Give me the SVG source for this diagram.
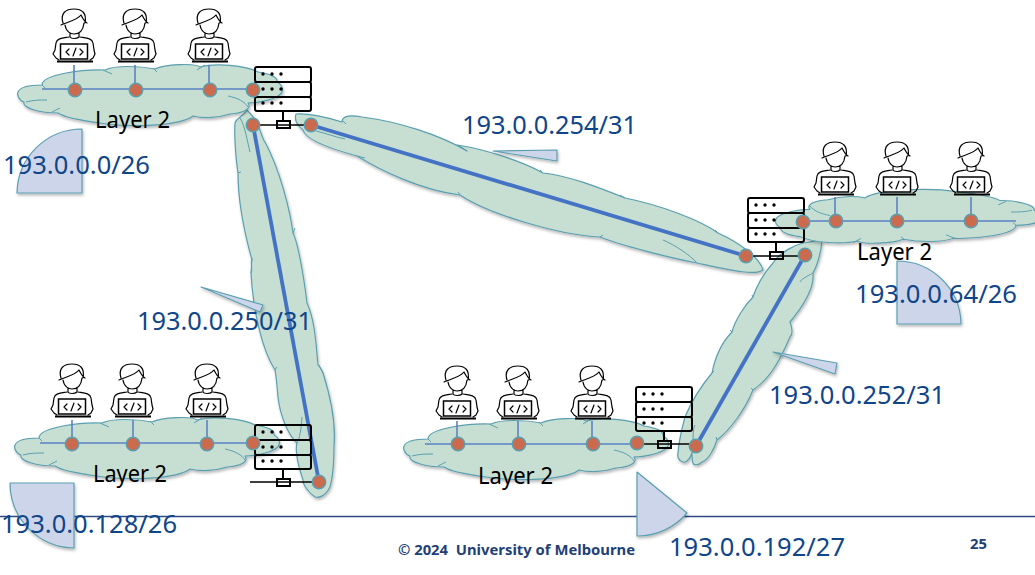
<svg xmlns="http://www.w3.org/2000/svg" xmlns:xlink="http://www.w3.org/1999/xlink" width="1035" height="575" viewBox="0 0 1035 575">
<style>
.cloud{fill:#c6dfd2;stroke:#5a9fb0;stroke-width:1.2;stroke-linejoin:round}
.crease{fill:none;stroke:#5a9fb0;stroke-width:1}
.pie{fill:#cdd5ea;stroke:#5a9fb0;stroke-width:1.2;stroke-linejoin:round}
.lan{stroke:#5b83c4;stroke-width:1.6;fill:none}
.wan{stroke:#4472c4;stroke-width:3.8;fill:none}
.dot{fill:#cb6a4d;stroke:#5a9fb0;stroke-width:1.5}
.k{fill:none;stroke:#000;stroke-width:1.2;stroke-linejoin:round;stroke-linecap:round}
.srv{fill:none;stroke:#000;stroke-width:2}
.sd{fill:#000}
.blue{font-family:"Noto Sans","Open Sans",sans-serif;font-size:25px;fill:#0f4589}
.l2{font-family:"Noto Sans","Open Sans",sans-serif;font-size:23px;fill:#000}
.foot{font-family:"Noto Sans","Open Sans",sans-serif;font-size:14.5px;font-weight:700;fill:#1f3f77}
</style>
<defs>
<filter id="sh" x="-10%" y="-10%" width="120%" height="120%"><feDropShadow dx="1" dy="2" stdDeviation="1.4" flood-color="#000" flood-opacity=".28"/></filter>
<g id="cloudShape">
<path class="cloud" d="M42,85 C42,74 85,69 105,70 C115,65 140,66 155,69 C165,64 195,63 200,67 C215,63 245,65 258,72 C270,74 278,77 277,82 C283,85 285,92 278,96 C270,101 255,103 248,103 C252,108 245,113 230,114 C215,119 200,118 193,116 C180,126 130,128 100,123 C85,121 65,118 58,113 C40,113 22,108 24,102 C18,100 17,94 18,92 C20,87 30,85 42,85 Z"/>
<path class="crease" d="M42,85 L45,88 M26,102 C33,100 40,100 47,100 M103,70 L112,74 M153,68 L157,72 M197,70 L205,65 M228,96 C238,98 245,102 248,107 M52,112 L60,108"/>
</g>
<g id="person">
<path class="k" d="M-11,23 C-14,13 -8,9 0,9 C8,9 13,13 11,23 M-13,25 C-6,22 3,20 7,15 C9,19 11,22 13,23 M-9,25 C-8,32 -3,34 0,34 C4,34 9,32 10,23 M-4,33 V37 C-3,39 3,39 5,37 V33"/>
<path class="k" d="M-5,37 C-11,38 -17,38 -18,43 L-19,50 L-21,54 L-18,58 L-15,60 M6,37 C12,38 18,38 19,43 L20,50 L21,54 L19,58 L16,60"/>
<rect x="-13.500" y="44" width="27" height="15" fill="#fff" stroke="#000" stroke-width="1.5"/>
<path d="M-17,61.500 H19" stroke="#000" stroke-width="2" fill="none"/>
<path class="k" d="M-5,49 L-8,52 L-5,55 M6,49 L9,52 L6,55 M2,48 L-1,56"/>
</g>
<g id="server">
<rect class="srv" x="0" y="0" width="56" height="15" rx="2"/>
<rect class="srv" x="0" y="15" width="56" height="15" rx="2"/>
<rect class="srv" x="0" y="30" width="56" height="14" rx="2"/>
<circle class="sd" cx="8" cy="7" r="1.7"/><circle class="sd" cx="17" cy="7" r="1.7"/><circle class="sd" cx="26" cy="7" r="1.7"/>
<circle class="sd" cx="8" cy="22" r="1.7"/><circle class="sd" cx="17" cy="22" r="1.7"/><circle class="sd" cx="26" cy="22" r="1.7"/>
<circle class="sd" cx="8" cy="36" r="1.7"/><circle class="sd" cx="17" cy="36" r="1.7"/><circle class="sd" cx="26" cy="36" r="1.7"/>
<path class="srv" d="M28,44 V54"/>
<rect class="srv" x="22" y="54" width="13" height="7" fill="none"/>
</g>
</defs>

<rect width="1035" height="575" fill="#fff"/>
<path d="M0,516.500 H1035" stroke="#2f4a80" stroke-width="1.4"/>

<g id="subnet-sectors" filter="url(#sh)">
<path class="pie" d="M17,193 H82 V129 A65,65 0 0 0 17,193 Z"/>
<path class="pie" d="M897,261 V324 H961 A64,64 0 0 0 897,261 Z"/>
<path class="pie" d="M10,483 H74 V548 A65,65 0 0 1 10,483 Z"/>
<path class="pie" d="M637,472 L687,513 A64,64 0 0 1 637,536 Z"/>
</g>

<g id="link-254" filter="url(#sh)">
<path class="cloud" d="M296,114 C308,113 330,118 342,122 C342,115 352,115 362,117 C400,122 440,135 467,151 C462,148 460,146 457,145 C490,150 525,163 543,173 C570,176 600,188 625,198 C660,205 700,220 718,233 C740,243 760,258 763,270 C755,276 730,270 697,263 C670,258 620,245 600,237 C560,235 490,215 460,195 C420,190 380,170 357,156 C335,150 305,140 303,130 C298,126 294,120 296,114 Z"/>
<path class="crease" d="M342,120 L346,124 M457,145 L467,151 M543,173 L540,170 M625,198 L620,195 M718,233 L715,230 M697,263 C690,255 675,245 663,240 M600,237 L603,235 M460,195 L458,192 M357,156 L365,158 M316,131 C325,133 335,137 345,139"/>
</g>

<g id="link-250" filter="url(#sh)">
<path class="cloud" d="M247,110 C250,114 256,118 258,125 C262,135 263,140 265,142 C280,170 290,210 293,233 C297,240 303,270 307,303 C315,320 316,345 318,365 C322,370 323,373 323,373 C330,395 336,420 334,445 C334,465 332,480 330,487 C325,497 318,498 315,497 C308,492 303,485 303,480 C298,465 295,450 297,443 C288,435 280,415 278,397 C277,385 276,375 275,370 C262,350 253,310 251,273 C253,268 250,262 252,260 C245,235 238,200 238,173 C236,160 234,135 235,123 C237,117 243,117 247,110 Z"/>
<path class="crease" d="M240,118 C245,125 248,145 250,152 M297,443 C300,437 301,430 302,417 M238,173 L241,172 M251,273 L252,258 M275,370 L277,367 M323,373 L319,365 M293,233 L295,228"/>
</g>

<g id="link-252" filter="url(#sh)">
<path class="cloud" d="M822,240 C821,255 816,268 813,273 C815,290 800,310 790,322 C793,330 792,335 790,337 C778,365 768,380 753,390 C745,410 730,430 717,440 C714,450 708,460 702,462 C698,466 693,465 693,463 C692,460 692,456 692,453 C690,460 685,463 683,462 C679,461 677,457 678,453 C679,440 682,428 685,417 C692,400 702,385 712,373 C715,358 722,342 732,332 C735,320 745,305 753,297 C757,285 765,272 773,263 C780,252 795,245 803,243 Z"/>
<path class="crease" d="M813,273 C812,274 802,278 800,282 M692,453 C694,440 692,430 695,425 M712,373 L714,371 M732,332 L730,330 M753,297 L752,295 M753,390 L751,388 M717,440 L716,437"/>
</g>

<g id="link-callouts" filter="url(#sh)">
<path class="pie" d="M493,151 L557,150 L557,161 Z"/>
<path class="pie" d="M201,287 L263,305 L260,312 Z"/>
<path class="pie" d="M773,352 L837,363 L835,374 Z"/>
</g>

<g id="cloud-top-left" filter="url(#sh)"><use xlink:href="#cloudShape" href="#cloudShape"/></g>
<g id="cloud-bottom-left" filter="url(#sh)"><use xlink:href="#cloudShape" href="#cloudShape" transform="translate(-3,353)"/></g>
<g id="cloud-bottom-middle" filter="url(#sh)"><use xlink:href="#cloudShape" href="#cloudShape" transform="translate(386,354)"/></g>
<g id="cloud-right" filter="url(#sh)"><use xlink:href="#cloudShape" href="#cloudShape" transform="translate(1058,300) scale(-1,-.88)"/></g>

<g id="connectors">
<path class="lan" d="M42,89 H253 M74,65 V90 M135,65 V90 M209,65 V90"/>
<path class="lan" d="M40,443 H253 M72,420 V443 M133,420 V443 M207,420 V443"/>
<path class="lan" d="M425,444 H637 M457,421 V444 M518,421 V444 M592,421 V444"/>
<path class="lan" d="M805,221 H1016 M835,197 V221 M897,197 V221 M971,197 V221"/>
<path class="wan" d="M311,125 L746,256"/>
<path class="wan" d="M253,125 L319,482"/>
<path class="wan" d="M696,446 L805,255"/>
<path d="M253,125 H311 M250,482 H319 M637,444 H696 M746,256 H805" stroke="#000" stroke-width="1.3" fill="none"/>
</g>

<g id="pc-1"><use xlink:href="#person" href="#person" x="74" y="0"/></g>
<g id="pc-2"><use xlink:href="#person" href="#person" x="135" y="0"/></g>
<g id="pc-3"><use xlink:href="#person" href="#person" x="209" y="0"/></g>
<g id="pc-4"><use xlink:href="#person" href="#person" x="72" y="355"/></g>
<g id="pc-5"><use xlink:href="#person" href="#person" x="132" y="355"/></g>
<g id="pc-6"><use xlink:href="#person" href="#person" x="207" y="355"/></g>
<g id="pc-7"><use xlink:href="#person" href="#person" x="457" y="357"/></g>
<g id="pc-8"><use xlink:href="#person" href="#person" x="518" y="357"/></g>
<g id="pc-9"><use xlink:href="#person" href="#person" x="592" y="357"/></g>
<g id="pc-10"><use xlink:href="#person" href="#person" x="835" y="133"/></g>
<g id="pc-11"><use xlink:href="#person" href="#person" x="897" y="133"/></g>
<g id="pc-12"><use xlink:href="#person" href="#person" x="971" y="133"/></g>

<g id="router-top-left"><use xlink:href="#server" href="#server" x="255" y="67"/></g>
<g id="router-bottom-left"><use xlink:href="#server" href="#server" x="255" y="425"/></g>
<g id="router-bottom-middle"><use xlink:href="#server" href="#server" x="636" y="387"/></g>
<g id="router-right"><use xlink:href="#server" href="#server" x="748" y="198"/></g>

<g id="interfaces">
<circle class="dot" cx="75" cy="90" r="6.7"/><circle class="dot" cx="136" cy="90" r="6.7"/><circle class="dot" cx="210" cy="90" r="6.7"/><circle class="dot" cx="253" cy="90" r="6.7"/><circle class="dot" cx="253" cy="125" r="6.7"/><circle class="dot" cx="311" cy="125" r="6.7"/>
<circle class="dot" cx="72" cy="444" r="6.7"/><circle class="dot" cx="133" cy="444" r="6.7"/><circle class="dot" cx="207" cy="444" r="6.7"/><circle class="dot" cx="253" cy="443" r="6.7"/><circle class="dot" cx="319" cy="482" r="6.7"/>
<circle class="dot" cx="458" cy="444" r="6.7"/><circle class="dot" cx="519" cy="444" r="6.7"/><circle class="dot" cx="593" cy="444" r="6.7"/><circle class="dot" cx="637" cy="443" r="6.7"/><circle class="dot" cx="696" cy="446" r="6.7"/>
<circle class="dot" cx="803" cy="222" r="6.7"/><circle class="dot" cx="836" cy="221" r="6.7"/><circle class="dot" cx="897" cy="221" r="6.7"/><circle class="dot" cx="971" cy="221" r="6.7"/><circle class="dot" cx="746" cy="256" r="6.7"/><circle class="dot" cx="805" cy="255" r="6.7"/>
</g>

<g id="labels">
<text class="l2" x="95" y="128" textLength="75" lengthAdjust="spacingAndGlyphs">Layer 2</text>
<text class="l2" x="93" y="482" textLength="74" lengthAdjust="spacingAndGlyphs">Layer 2</text>
<text class="l2" x="478" y="484" textLength="75" lengthAdjust="spacingAndGlyphs">Layer 2</text>
<text class="l2" x="857" y="260" textLength="75" lengthAdjust="spacingAndGlyphs">Layer 2</text>
<text class="blue" x="3" y="174" textLength="147" lengthAdjust="spacingAndGlyphs">193.0.0.0/26</text>
<text class="blue" x="462" y="134" textLength="175" lengthAdjust="spacingAndGlyphs">193.0.0.254/31</text>
<text class="blue" x="137" y="330" textLength="175" lengthAdjust="spacingAndGlyphs">193.0.0.250/31</text>
<text class="blue" x="1" y="533" textLength="176" lengthAdjust="spacingAndGlyphs">193.0.0.128/26</text>
<text class="blue" x="855" y="303" textLength="162" lengthAdjust="spacingAndGlyphs">193.0.0.64/26</text>
<text class="blue" x="769" y="404" textLength="176" lengthAdjust="spacingAndGlyphs">193.0.0.252/31</text>
<text class="blue" x="669" y="556" textLength="176" lengthAdjust="spacingAndGlyphs">193.0.0.192/27</text>
<text class="foot" x="398" y="555" textLength="237" lengthAdjust="spacingAndGlyphs" xml:space="preserve">© 2024  University of Melbourne</text>
<text class="foot" x="970" y="549" textLength="17" lengthAdjust="spacingAndGlyphs">25</text>
</g>
</svg>
